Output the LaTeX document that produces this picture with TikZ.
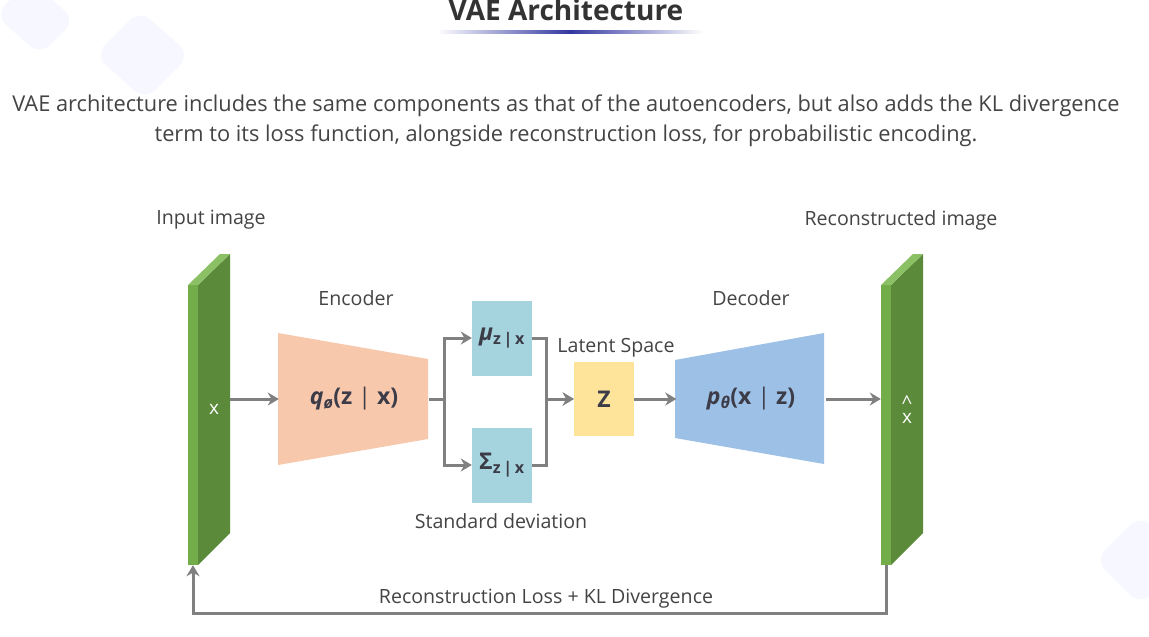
\documentclass[tikz,border=0pt]{standalone}
\usepackage{fontspec}
\setmainfont{Open Sans}
\usetikzlibrary{arrows.meta}
\definecolor{txt}{RGB}{68,68,68}
\definecolor{ttl}{RGB}{51,51,51}
\definecolor{lbl}{RGB}{60,60,72}
\definecolor{lineg}{RGB}{128,128,128}
\definecolor{gfront}{RGB}{114,173,74}
\definecolor{gside}{RGB}{90,138,58}
\definecolor{gtop}{RGB}{140,192,100}
\definecolor{peach}{RGB}{248,200,172}
\definecolor{cyanb}{RGB}{165,212,222}
\definecolor{yel}{RGB}{253,228,154}
\definecolor{blu}{RGB}{157,192,230}
\definecolor{navy}{RGB}{50,55,160}
\definecolor{bgshape}{RGB}{246,247,255}
\begin{document}
\begin{tikzpicture}[x=1pt,y=-1pt,
  arr/.style={draw=lineg,line width=3pt,-{Stealth[length=11pt,width=13pt]}},
  lab/.style={text=txt,font=\fontsize{19.6}{23}\selectfont},
  mlab/.style={text=lbl,font=\fontsize{23}{27}\selectfont\bfseries},
  sq/.style={minimum width=60pt,minimum height=75pt,inner sep=0pt}]
\useasboundingbox (0,0) rectangle (1149,637);
\fill[white] (0,0) rectangle (1149,637);
% faint background shapes
\fill[bgshape,rounded corners=14pt] (30,-20) -- (75,20) -- (40,55) -- (-5,15) -- cycle;
\fill[bgshape,rounded corners=14pt] (140,10) -- (190,55) -- (145,100) -- (95,55) -- cycle;
\fill[bgshape,rounded corners=14pt] (1140,515) -- (1185,560) -- (1140,605) -- (1095,560) -- cycle;
% title
\node[anchor=base,text=ttl,font=\fontsize{28}{32}\selectfont\bfseries] (title) at (566,20) {VAE Architecture};
\shade[left color=white,right color=white,middle color=navy] (437,30) rectangle (703,33);
% description
\node[align=center,text=txt,font=\fontsize{21.8}{30}\selectfont] (desc) at (566,121)
  {VAE architecture includes the same components as that of the autoencoders, but also adds the KL divergence\\term to its loss function, alongside reconstruction loss, for probabilistic encoding.};
% input slab
\fill[gfront] (188,285) rectangle (198,565);
\fill[gside] (198,285) -- (230,254) -- (230,533) -- (198,565) -- cycle;
\fill[gtop] (188,285) -- (220,254) -- (230,254) -- (198,285) -- cycle;
\node[minimum width=10pt,minimum height=280pt,inner sep=0pt] (inf) at (193,425) {};
\node[minimum width=32pt,minimum height=311pt,inner sep=0pt,text=white,font=\fontsize{19}{20}\selectfont] (in) at (214,409.5) {x};
% output slab
\fill[gfront] (881,285) rectangle (891,565);
\fill[gside] (891,285) -- (923,254) -- (923,533) -- (891,565) -- cycle;
\fill[gtop] (881,285) -- (913,254) -- (923,254) -- (891,285) -- cycle;
\node[minimum width=10pt,minimum height=280pt,inner sep=0pt] (outf) at (886,425) {};
\node[minimum width=32pt,minimum height=311pt,inner sep=0pt,text=white,font=\fontsize{19}{14}\selectfont] (out) at (907,409.5) {\shortstack{\textasciicircum\\[1pt]x}};
% captions
\node[lab] (inlab) at (211,220) {Input image};
\node[lab] (outlab) at (901,220) {Reconstructed image};
\node[lab] (enclab) at (356,298) {Encoder};
\node[lab] (declab) at (751,298) {Decoder};
\node[lab] (latlab) at (616,348) {Latent Space};
\node[lab] (sdlab) at (501,521) {Standard deviation};
% encoder
\fill[peach] (278,333) -- (428,359) -- (428,439) -- (278,465) -- cycle;
\node[mlab,minimum width=150pt,minimum height=132pt,inner sep=0pt] (enc) at (354,399)
  {\textit{q}\textsubscript{\textit{ø}}(z {\mdseries|} x)};
% mu and sigma
\node[sq,fill=cyanb,mlab] (mu) at (502,338) {\textit{μ}\textsubscript{z\,|\,x}};
\node[sq,fill=cyanb,mlab] (sig) at (502,465) {Σ\textsubscript{z\,|\,x}};
% latent
\node[sq,minimum height=74pt,fill=yel,mlab] (z) at (604,399) {Z};
% decoder
\fill[blu] (675,360) -- (824,333) -- (824,464) -- (675,438) -- cycle;
\node[mlab,minimum width=149pt,minimum height=131pt,inner sep=0pt] (dec) at (751,399)
  {\textit{p}\textsubscript{\textit{θ}}(x {\mdseries|} z)};
% connectors
\draw[arr] (in.east |- enc.west) -- (enc.west);
\draw[arr] (enc.east) -- ++(15,0) |- (mu.west);
\draw[arr] (enc.east) -- ++(15,0) |- (sig.west);
\draw[arr] (mu.east) -- ++(14,0) |- (z.west);
\draw[arr] (sig.east) -- ++(14,0) |- (z.west);
\draw[arr] (z.east) -- (dec.west);
\draw[arr] (dec.east) -- (dec.east -| outf.west);
\draw[arr] (outf.south) -- ++(0,48) -| (inf.south);
\node[lab] (loss) at (546,599) {Reconstruction Loss + KL Divergence};
\end{tikzpicture}
\end{document}
